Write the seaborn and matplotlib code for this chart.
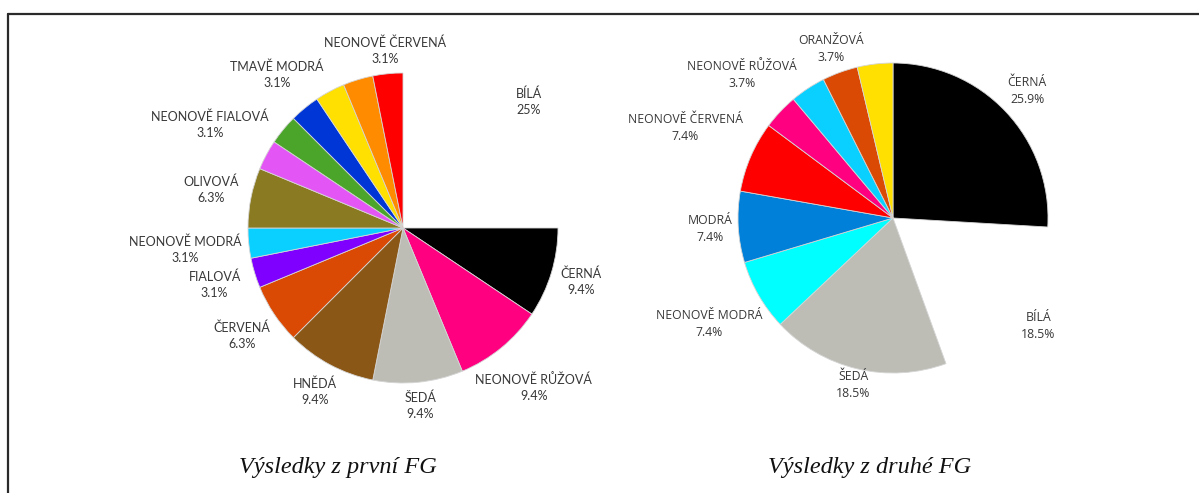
from decimal import Decimal, ROUND_HALF_UP

import matplotlib
matplotlib.use("Agg")
import matplotlib.pyplot as plt
from matplotlib.lines import Line2D
import numpy as np
import seaborn as sns

# ---- data: first focus group ----
fg1_names = ["BÍLÁ", "ČERNÁ", "NEONOVĚ RŮŽOVÁ", "ŠEDÁ", "HNĚDÁ", "ČERVENÁ",
             "FIALOVÁ", "NEONOVĚ MODRÁ", "OLIVOVÁ", "NEONOVĚ FIALOVÁ", "ZELENÁ",
             "TMAVĚ MODRÁ", "ŽLUTÁ", "ORANŽOVÁ", "NEONOVĚ ČERVENÁ"]
fg1_counts = [8, 3, 3, 3, 3, 2, 1, 1, 2, 1, 1, 1, 1, 1, 1]
fg1_shown = [True, True, True, True, True, True, True, True, True, True, False,
             True, False, False, True]

# ---- data: second focus group ----
fg2_names = ["ČERNÁ", "BÍLÁ", "ŠEDÁ", "NEONOVĚ MODRÁ", "MODRÁ", "NEONOVĚ ČERVENÁ",
             "NEONOVĚ RŮŽOVÁ", "SVĚTLE MODRÁ", "ORANŽOVÁ", "ŽLUTÁ"]
fg2_counts = [7, 5, 5, 2, 2, 2, 1, 1, 1, 1]
fg2_shown = [True, True, True, True, True, True, True, False, True, False]

titles = ["Výsledky z první FG", "Výsledky z druhé FG"]

# ---- styling ----
fg1_colors = ["#FFFFFF", "#000000", "#FF0080", "#BDBDB6", "#8A5716", "#DA4A05",
              "#7F00FF", "#0AD0FF", "#8A7B23", "#E355F5", "#4AA52A",
              "#0036D6", "#FFE000", "#FF8C00", "#FF0000"]
fg1_dist = [1.15, 1.20, 1.33, 1.15, 1.20, 1.25, 1.27, 1.41, 1.26, 1.41, 1.3,
            1.28, 1.3, 1.3, 1.15]
fg2_colors = ["#000000", "#FFFFFF", "#BDBDB6", "#00FFFF", "#0080D8", "#FF0000",
              "#FF0080", "#0AD0FF", "#DA4A05", "#FFE000"]
fg2_dist = [1.19, 1.17, 1.11, 1.37, 1.18, 1.46, 1.34, 1.3, 1.16, 1.3]

sns.set_theme(style="white")
plt.rcParams["font.family"] = ["Lato", "DejaVu Sans"]

W, H = 1199, 493
DPI = 100
R_PX = 155      # pie radius in pixels
HALF = 250      # half size of each pie axes in pixels

fig = plt.figure(figsize=(W / DPI, H / DPI), dpi=DPI)
fig.patch.set_facecolor("white")


def pct_text(count, total):
    v = Decimal(count * 100) / Decimal(total)
    s = str(v.quantize(Decimal("0.1"), rounding=ROUND_HALF_UP))
    if s.endswith(".0"):
        s = s[:-2]
    return s + "%"


def draw_pie(cx, cy, names, counts, shown, colors, dists, font, size):
    ax = fig.add_axes([(cx - HALF) / W, 1 - (cy + HALF) / H,
                       2 * HALF / W, 2 * HALF / H])
    wedges, _ = ax.pie(counts, colors=colors, startangle=90, counterclock=False,
                       radius=1.0,
                       wedgeprops=dict(edgecolor="#D5D5D5", linewidth=0.6))
    lim = HALF / R_PX
    ax.set_xlim(-lim, lim)
    ax.set_ylim(-lim, lim)
    ax.set_aspect("equal")
    ax.axis("off")
    for w, c in zip(wedges, colors):
        if c.upper() == "#FFFFFF":
            w.set_edgecolor("none")
            w.set_zorder(0)
    total = sum(counts)
    for w, name, cnt, show, d in zip(wedges, names, counts, shown, dists):
        if not show:
            continue
        mid = np.deg2rad((w.theta1 + w.theta2) / 2)
        ax.text(d * np.cos(mid), d * np.sin(mid),
                f"{name}\n{pct_text(cnt, total)}",
                ha="center", va="center", fontsize=size, color="#383838",
                family=font, linespacing=1.4, clip_on=False)
    return ax


draw_pie(403, 228, fg1_names, fg1_counts, fg1_shown, fg1_colors, fg1_dist,
         ["Lato", "DejaVu Sans"], 9.0)
draw_pie(893, 218, fg2_names, fg2_counts, fg2_shown, fg2_colors, fg2_dist,
         ["Open Sans", "DejaVu Sans"], 8.8)

# captions under the pies
for x, t in zip([338, 870], titles):
    fig.text(x / W, 1 - 467 / H, t, ha="center", va="center",
             fontsize=17.5, style="italic", family=["Liberation Serif"],
             color="#111111")

# frame lines (top and left)
fig.add_artist(Line2D([7.5 / W, 7.5 / W], [1 - 14 / H, 0], color="#2A2A2A",
                      lw=1.6, transform=fig.transFigure))
fig.add_artist(Line2D([7.5 / W, 1], [1 - 14 / H, 1 - 14 / H], color="#2A2A2A",
                      lw=1.6, transform=fig.transFigure))

fig.savefig("out.png", dpi=DPI, facecolor="white")
